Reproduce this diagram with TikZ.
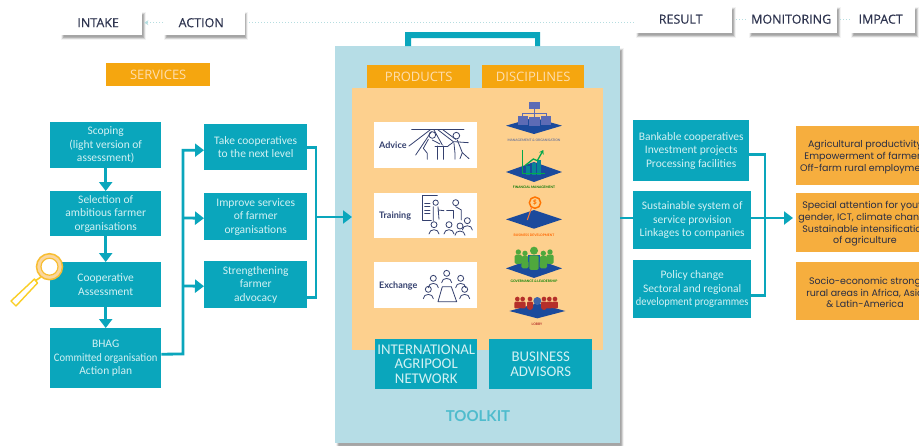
\documentclass[tikz,border=0pt]{standalone}
\usepackage{fontspec}
\setmainfont{Carlito}
\newfontfamily\widefont{Poppins}
\newfontfamily\headfont[FakeBold=0.4]{Open Sans}
\newfontfamily\lightfont{Open Sans}
\newfontfamily\labelfont{Lato}
\usetikzlibrary{arrows.meta,calc}
\definecolor{teal}{HTML}{0AA6BC}
\definecolor{tealtxt}{HTML}{D2F1F3}
\definecolor{amber}{HTML}{F5A60F}
\definecolor{amberlt}{HTML}{F6AE3E}
\definecolor{pale}{HTML}{FDD08E}
\definecolor{panel}{HTML}{B6DDE6}
\definecolor{ink}{HTML}{2F3550}
\definecolor{line}{HTML}{34406E}
\definecolor{navy}{HTML}{1B4A9C}
\definecolor{mgmt}{HTML}{5C6BB5}
\definecolor{dots}{HTML}{B5DDE0}
\definecolor{grn}{HTML}{4FA83D}
\definecolor{rd}{HTML}{B5302A}
\tikzset{
 tbox/.style={fill=teal,text=tealtxt,anchor=north west,align=center,inner sep=0pt,
   font=\fontsize{11.5}{13.5}\selectfont,execute at begin node={\rule{0pt}{13.5pt}}},
 card/.style={fill=white,text=ink,anchor=north west,inner sep=0pt,
   font=\headfont\fontsize{12.5}{14}\selectfont},
 ambox/.style={fill=amber,text=pale!70!white,anchor=north west,inner sep=0pt,
   font=\lightfont\fontsize{13}{14}\selectfont},
 imp/.style={fill=amberlt,anchor=north west,inner sep=0pt},
 imptxt/.style={text=ink!85!black,align=center,font=\widefont\fontsize{9.5}{11.7}\selectfont},
 whitebox/.style={fill=white,anchor=north west,inner sep=0pt},
 prod/.style={text=line,font=\labelfont\bfseries\fontsize{9}{10}\selectfont,anchor=west,inner sep=0pt},
 big/.style={fill=teal,text=tealtxt,anchor=north west,align=center,inner sep=0pt,
   font=\fontsize{14.8}{14.3}\selectfont},
 conn/.style={draw=teal,line width=2.8pt},
 arr/.style={conn,-{Triangle[width=13pt,length=9pt]}},
 dotline/.style={draw=dots,line width=1pt,dotted},
 icon/.style={draw=line,line width=.8pt,line cap=round,line join=round},
 captxt/.style={font=\labelfont\bfseries\fontsize{3.3}{4}\selectfont,inner sep=0pt},
}
\newcommand\softshadow[4]{%
 \foreach \d/\o in {3/.06,2.4/.08,1.8/.09,1.2/.1,.6/.12,0/.12}{%
  \fill[black!75,opacity=\o] (#1-\d,#2-\d) rectangle (#3+\d,#4+\d);}}
\newcommand\aperson[2]{%
 \draw[icon] (#1,#2) circle[radius=9];
 \draw[icon] (#1-15,#2+28) .. controls (#1-15,#2+11) and (#1+15,#2+11) .. (#1+15,#2+28);}
\begin{document}
\begin{tikzpicture}[x=1pt,y=-1pt]
\useasboundingbox (0,0) rectangle (919,445);
\begin{scope}
\clip (0,0) rectangle (919,445);
\fill[white] (0,0) rectangle (919,445);

% header cards
\softshadow{64}{15}{143}{37}
\softshadow{167}{15}{245}{37}
\softshadow{639}{10}{733}{35}
\softshadow{752}{10}{838}{35}
\softshadow{854}{10}{916}{35}
\node[card,minimum width=82pt,minimum height=25pt,text depth=0pt] (intake) at (60,10) {INTAKE\kern6pt};
\node[card,minimum width=82pt,minimum height=25pt] (action) at (163,10) {ACTION\kern6pt};
\node[card,minimum width=97pt,minimum height=28pt] (result) at (635,5) {RESULT\kern6pt};
\node[card,minimum width=89pt,minimum height=28pt] (monitoring) at (748,5) {MONITORING\kern3pt};
\node[card,minimum width=65pt,minimum height=28pt] (impact) at (850,5) {IMPACT\kern4pt};
\draw[dotline] (action.west) -- ([xshift=5pt]intake.east);
\draw[draw=dots,line width=.8pt,-{Stealth[width=5pt,length=4pt]}] ([xshift=6pt]intake.east) -- ([xshift=2pt]intake.east);
\draw[dotline] ([xshift=4pt]action.east) -- (result.west |- action.east);
\draw[dotline] ([xshift=4pt]result.east) -- (monitoring.west);
\draw[dotline] ([xshift=3pt]monitoring.east) -- (impact.west);

\node[ambox,minimum width=104pt,minimum height=23pt] (services) at (106,63) {SERVICES};

% left column
\node[tbox,minimum width=111pt,minimum height=46pt] (scoping) at (50,122) {Scoping\\(light version of\\assessment)};
\node[tbox,minimum width=111pt,minimum height=45pt] (selection) at (50,191) {Selection of\\ambitious farmer\\organisations};
\node[tbox,minimum width=111pt,minimum height=45pt] (assess) at (50,262) {Cooperative\\Assessment};
\node[tbox,minimum width=111pt,minimum height=60pt] (bhag) at (50,328) {BHAG\\\scalebox{.92}[1]{Committed organisation}\\Action plan};
\draw[arr] (scoping) -- (selection);
\draw[arr] (selection) -- (assess);
\draw[arr] (assess) -- (bhag);

% middle column
\node[tbox,minimum width=103pt,minimum height=46pt] (take) at (204,124) {Take cooperatives\\to the next level};
\node[tbox,minimum width=103pt,minimum height=47pt] (improve) at (204,193) {Improve services\\of farmer\\organisations};
\node[tbox,minimum width=103pt,minimum height=47pt] (strength) at (204,261) {Strengthening\\farmer\\advocacy};
\coordinate (busl) at (183,354);
\coordinate (busr) at (316,217);
\draw[arr] ([yshift=4pt]bhag.east) -- (busl) |- ([yshift=-3pt]take.west);
\draw[arr] (busl |- 0,218) -- ([yshift=-1.5pt]improve.west);
\draw[arr] (busl |- 0,286) -- ([yshift=-1.5pt]strength.west);
\draw[conn] ([yshift=0pt]take.east) -| (busr) |- ([yshift=-12.5pt]strength.east);

% magnifier
\draw[draw=amberlt!60!yellow,line width=1.4pt,fill=white,line join=round] (34.5,279) -- (37.5,283) -- (16,306) -- (11,301) -- cycle;
\draw[draw=amberlt!60!yellow,line width=1.6pt] (41,277) -- (35,281);
\draw[draw=amberlt!80!yellow,line width=1.5pt,fill=amberlt!50!white] (49.5,266.7) circle[radius=13];
\draw[draw=amberlt!80!yellow,line width=1.2pt,fill=white] (49.5,266.7) circle[radius=8.5];

% toolkit panel
\softshadow{339}{51}{621}{447}
\node[fill=panel,anchor=north west,inner sep=0pt,minimum width=285pt,minimum height=397pt] (toolkitpanel) at (335,46) {};
\fill[teal] (405,46) -- (405,32) -- (540,32) -- (540,46) -- (535,46) -- (535,38) -- (411,38) -- (411,46) -- cycle;
\node[fill=pale,anchor=north west,inner sep=0pt,minimum width=251pt,minimum height=262pt] (inner) at (352,88) {};
\node[ambox,minimum width=103pt,minimum height=23pt] (products) at (367,65) {PRODUCTS};
\node[ambox,minimum width=102pt,minimum height=23pt] (disciplines) at (482,65) {DISCIPLINES};
\node[whitebox,minimum width=103pt,minimum height=46pt] (advice) at (374,122) {};
\node[whitebox,minimum width=103pt,minimum height=45pt] (training) at (374,193) {};
\node[whitebox,minimum width=103pt,minimum height=46pt] (exchange) at (374,262) {};
\node[prod] (advicet) at (379,145) {Advice};
\node[prod] (trainingt) at (379,216) {Training};
\node[prod] (exchanget) at (379,285.5) {Exchange};

% advice icon
\begin{scope}[shift={(374,120)},x=.3333pt,y=-.3333pt]
\draw[icon] (113,27) -- (270,27);
\draw[icon] (175,45) circle[radius=10];
\draw[icon] (247,47) circle[radius=10];
\draw[icon] (168,30) -- (105,78);
\draw[icon] (172,35) -- (125,105);
\draw[icon] (163,58) -- (148,85) -- (160,100) -- (160,118);
\draw[icon] (180,30) -- (205,75);
\draw[icon] (190,28) -- (238,65);
\draw[icon] (205,28) -- (245,58);
\draw[icon] (175,60) -- (198,72);
\draw[icon] (183,78) -- (222,78);
\draw[icon] (190,78) -- (190,118);
\draw[icon] (207,78) -- (207,118);
\draw[icon] (240,70) -- (243,100) -- (243,118);
\draw[icon] (222,78) -- (240,65) -- (283,68);
\draw[icon] (250,60) -- (265,98) -- (285,116);
\draw[icon] (265,98) -- (258,116);
\end{scope}

% training icon
\begin{scope}[shift={(374,190)},x=.3333pt,y=-.3333pt]
\draw[icon] (190,17) -- (145,17) -- (145,92) -- (172,92);
\draw[icon] (152,40) -- (168,40) (152,50) -- (168,50) (152,60) -- (168,60) (152,70) -- (168,70);
\draw[icon] (185,38) circle[radius=8];
\draw[icon] (178,50) -- (178,92) (192,50) -- (195,88);
\draw[icon] (192,60) -- (210,62);
\draw[icon] (245,38) circle[radius=9];
\draw[icon] (218,62) -- (238,62) -- (238,85);
\draw[icon] (245,50) -- (262,60) -- (262,90);
\aperson{180}{104}
\aperson{225}{104}
\aperson{258}{108}
\aperson{280}{92}
\end{scope}

% exchange icon
\begin{scope}[shift={(374,260)},x=.3333pt,y=-.3333pt]
\aperson{178}{55}
\aperson{218}{40}
\aperson{260}{55}
\aperson{163}{88}
\aperson{272}{88}
\draw[icon] (205,80) -- (232,80) -- (248,125) -- (192,125) -- cycle;
\end{scope}

% discipline plates
\begin{scope}[shift={(500,95)},x=.3333pt,y=-.3333pt]
\fill[navy] (18,92) -- (102,68) -- (186,92) -- (102,117) -- cycle;
\fill[mgmt] (88,20) rectangle (120,42);
\draw[mgmt,line width=.6pt] (104,42) -- (104,55) (68,62) -- (68,55) -- (138,55) -- (138,62) (104,55) -- (104,65);
\fill[mgmt] (55,62) rectangle (85,90);
\fill[mgmt] (88,65) rectangle (120,92);
\fill[mgmt] (122,62) rectangle (152,90);
\fill[navy] (18,231) -- (102,201) -- (186,231) -- (102,261) -- cycle;
\fill[teal!80!black] (78,212) rectangle (90,240);
\fill[teal!80!black] (95,205) rectangle (107,240);
\fill[teal!80!black] (112,195) rectangle (124,240);
\draw[green!50!teal!80!black,line width=1.3pt] (67,165) -- (67,235) -- (135,235);
\draw[green!50!teal!80!black,line width=1.3pt,-{Stealth[width=5pt,length=4pt]}] (75,212) -- (100,192) -- (112,197) -- (130,165);
\end{scope}
\node[captxt,text=line!70] (capa) at (534,140) {MANAGEMENT \& ORGANISATION};
\node[captxt,text=green!45!black] (capb) at (534,187) {FINANCIAL MANAGEMENT};

\begin{scope}[shift={(500,190)},x=.3333pt,y=-.3333pt]
\fill[navy] (18,88) -- (102,60) -- (186,88) -- (102,116) -- cycle;
\draw[orange!90!red,line width=1.5pt] (105,38) circle[radius=17];
\node[text=orange!90!red,font=\bfseries\fontsize{8}{8}\selectfont,inner sep=0pt] (dollar) at (105,38) {\$};
\draw[orange!70!red!80!white,line width=1pt] (95,52) -- (82,90);
% governance
\fill[navy] (18,235) -- (102,205) -- (186,235) -- (102,264) -- cycle;
\foreach \x/\y/\r/\w/\t in {55/186/8/11/222,150/186/8/11/222,75/190/8/11/235,130/190/8/11/235}{
 \fill[grn] (\x,\y) circle[radius=\r];
 \fill[grn,rounded corners=1.5pt] (\x-\w,\y+\r) rectangle (\x+\w,\t);}
\fill[grn] (102,182) circle[radius=12];
\fill[navy!80!teal] (84,196) rectangle (120,215);
\fill[grn,rounded corners=1.5pt] (88,196) rectangle (116,240);
\end{scope}
\node[captxt,text=orange!80!red] (capc) at (534,235) {BUSINESS DEVELOPMENT};
\node[captxt,text=green!50!black] (capd) at (534,281) {GOVERNANCE \& LEADERSHIP};

\begin{scope}[shift={(500,285)},x=.3333pt,y=-.3333pt]
\fill[navy] (28,78) -- (112,55) -- (196,78) -- (112,100) -- cycle;
\foreach \x in {52,68,90,132,148,165}{
 \fill[rd] (\x,42) circle[radius=7];
 \fill[rd,rounded corners=1pt] (\x-9,50) rectangle (\x+9,70);}
\fill[navy!85!white] (112,48) circle[radius=12];
\fill[rd] (90,66) circle[radius=9] (132,66) circle[radius=9];
\end{scope}
\node[captxt,text=rd] (cape) at (537,324.5) {LOBBY};

% bottom boxes
\node[big,minimum width=102pt,minimum height=50pt] (network) at (375,339) {INTERNATIONAL\\AGRIPOOL\\NETWORK};
\node[big,minimum width=103pt,minimum height=50pt] (advisors) at (489,339) {BUSINESS\\ADVISORS};
\node[text=teal!60!panel,font=\labelfont\bfseries\fontsize{15}{15}\selectfont,inner sep=0pt] (toolkit) at (478,416) {TOOLKIT};

% results
\node[tbox,minimum width=116pt,minimum height=61pt] (bank) at (633,120) {Bankable cooperatives\\Investment projects\\Processing facilities};
\node[tbox,minimum width=118pt,minimum height=58pt] (system) at (633,191) {Sustainable system of\\service provision\\Linkages to companies};
\node[tbox,minimum width=118pt,minimum height=58pt] (policy) at (633,260) {Policy change\\Sectoral and regional\\\scalebox{.91}[1]{development programmes}};
\coordinate (busq) at (765,218);
\draw[conn] ([yshift=-3.5pt]bank.east) -| (busq) |- ([yshift=-6pt]policy.east);

% impacts
\node[imp,minimum width=140pt,minimum height=59pt] (i1) at (796,126) {};
\node[imp,minimum width=140pt,minimum height=59pt] (i2) at (796,193) {};
\node[imp,minimum width=140pt,minimum height=58pt] (i3) at (796,262) {};
\node[imptxt] (i1t) at (865,157) {Agricultural productivity\\Empowerment of farmers\\Off-farm rural employment};
\node[imptxt] (i2t) at (865,224) {Special attention for youth\\gender, ICT, climate change\\Sustainable intensification\\of agriculture};
\node[imptxt] (i3t) at (865,292.5) {Socio-economic strong\\rural areas in Africa, Asia\\\& Latin-America};

% main connectors
\draw[arr] (busr) -- (inner.west |- busr);
\draw[conn] (toolkitpanel.east |- busq) -- (system.west |- busq);
\draw[arr] (system.east |- busq) -- ([xshift=-3pt]i2.west |- busq);
\end{scope}
\end{tikzpicture}
\end{document}
